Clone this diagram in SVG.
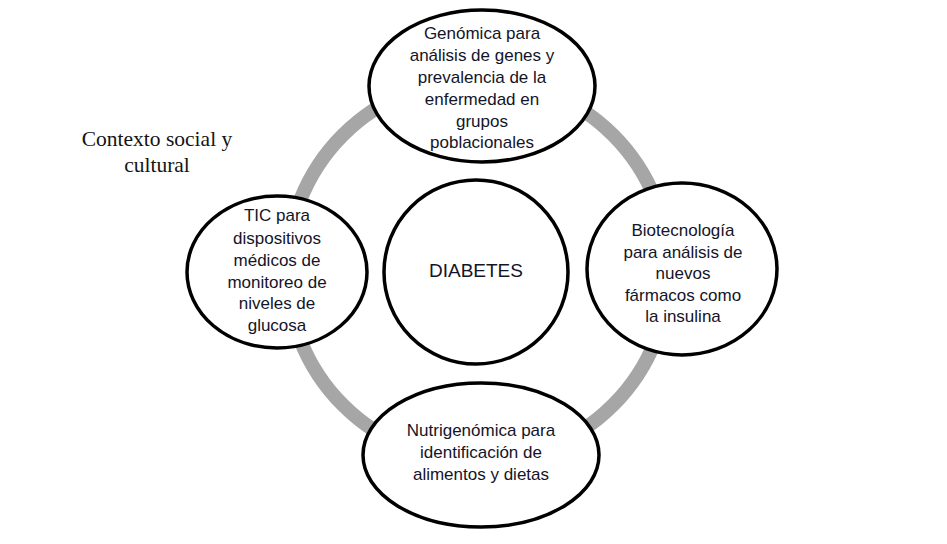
<svg xmlns="http://www.w3.org/2000/svg" width="947" height="544" viewBox="0 0 947 544">
<style>
.n{fill:#fff;stroke:#000;stroke-width:3.5}
.t{font-family:"Liberation Sans",Arial,sans-serif;font-size:17px;fill:#141428;text-anchor:middle}
.c{font-family:"Liberation Serif","Times New Roman",serif;font-size:21.5px;fill:#141414;text-anchor:middle}
</style>
<rect width="947" height="544" fill="#fff"/>
<g id="connectors">
<circle cx="478" cy="270" r="191" fill="none" stroke="#a6a6a6" stroke-width="14"/>
</g>
<g id="context">
<text class="c" x="157" y="146">Contexto social y</text>
<text class="c" x="157" y="172">cultural</text>
</g>
<g id="center">
<circle class="n" cx="476" cy="272" r="92"/>
<text class="t" x="476" y="277" style="font-size:19px">DIABETES</text>
</g>
<g id="top">
<ellipse class="n" cx="482" cy="86" rx="113" ry="76"/>
<text class="t" x="482" y="39">Genómica para</text>
<text class="t" x="482" y="61">análisis de genes y</text>
<text class="t" x="482" y="83">prevalencia de la</text>
<text class="t" x="482" y="105">enfermedad en</text>
<text class="t" x="482" y="127">grupos</text>
<text class="t" x="482" y="148">poblacionales</text>
</g>
<g id="right">
<ellipse class="n" cx="682" cy="269" rx="95" ry="86"/>
<text class="t" x="683" y="236">Biotecnología</text>
<text class="t" x="683" y="258">para análisis de</text>
<text class="t" x="683" y="279">nuevos</text>
<text class="t" x="683" y="301">fármacos como</text>
<text class="t" x="683" y="322">la insulina</text>
</g>
<g id="left">
<ellipse class="n" cx="277" cy="272" rx="90" ry="76"/>
<text class="t" x="277" y="221">TIC para</text>
<text class="t" x="277" y="244">dispositivos</text>
<text class="t" x="277" y="266">médicos de</text>
<text class="t" x="277" y="288">monitoreo de</text>
<text class="t" x="277" y="309">niveles de</text>
<text class="t" x="277" y="331">glucosa</text>
</g>
<g id="bottom">
<ellipse class="n" cx="481" cy="455" rx="118" ry="72"/>
<text class="t" x="481" y="436">Nutrigenómica para</text>
<text class="t" x="481" y="458">identificación de</text>
<text class="t" x="481" y="480">alimentos y dietas</text>
</g>
</svg>
